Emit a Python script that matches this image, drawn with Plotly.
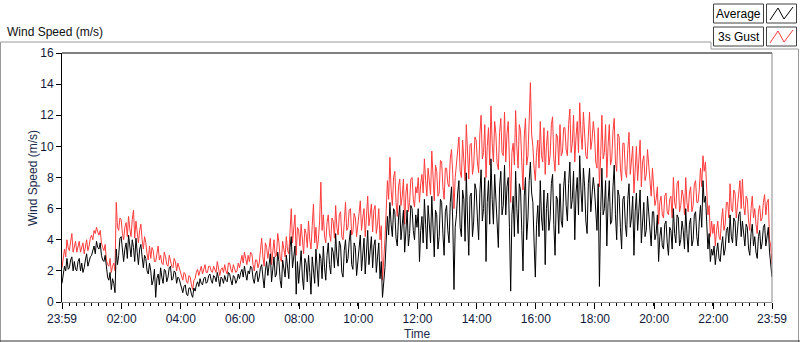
import pandas as pd
import plotly.graph_objects as go

# ---- data (2.5-minute samples, 23:59 -> 23:59 next day), one row per hour ----
avg_speed = [
    1.2,1.9, 2.3,2.0, 2.8,2.1, 2.2,2.7, 2.9,2.0, 2.6,2.1, 2.0,2.6, 2.8,2.0, 2.5,1.9, 2.2,2.7, 3.1,2.3, 2.6,2.9,
    3.0,3.3, 3.6,3.1, 3.9,3.5, 3.4,3.8, 3.0,2.7, 2.6,3.0, 2.0,1.6, 1.4,1.9, 0.8,1.5, 1.2,0.6, 3.4,2.4, 3.0,4.1,
    4.2,3.2, 2.6,3.4, 3.8,2.8, 4.3,3.6, 2.9,4.0, 3.5,2.6, 4.1,3.2, 2.4,3.4, 3.7,2.9, 2.2,3.0, 2.8,2.0, 1.8,2.5,
    2.0,1.1, 1.4,2.1, 0.3,1.5, 1.8,1.1, 2.2,1.6, 1.2,2.1, 2.0,1.3, 1.6,2.2, 2.3,1.4, 1.5,2.0, 1.9,1.2, 1.6,1.5,
    1.2,0.8, 0.6,1.0, 1.1,0.5, 0.4,0.9, 0.9,0.5, 0.3,0.9, 0.7,1.1, 1.3,1.0, 1.5,1.2, 1.1,1.5, 1.6,1.2, 1.3,1.7,
    1.8,1.4, 1.2,1.7, 1.6,1.3, 1.9,1.5, 1.0,1.6, 1.5,1.2, 1.7,1.4, 1.3,1.9, 1.8,1.4, 1.1,1.7, 1.6,1.2, 1.4,1.8,
    1.5,1.9, 2.1,1.6, 2.3,1.8, 1.4,2.0, 1.8,2.3, 2.2,1.5, 1.2,1.8, 2.0,1.3, 1.6,2.2, 2.4,1.6, 0.9,2.0, 2.6,1.7,
    2.4,3.1, 1.3,2.2, 2.9,1.6, 1.8,3.2, 2.6,1.4, 0.9,2.7, 2.2,1.6, 3.0,2.0, 1.5,3.5, 4.2,2.2, 2.8,3.6, 0.5,2.6,
    1.2,2.6, 3.3,1.6, 0.8,2.8, 2.5,1.3, 3.0,1.9, 0.5,2.9, 2.2,1.2, 3.4,2.0, 1.0,3.1, 2.8,1.5, 3.6,2.2, 1.4,3.0,
    3.8,2.4, 1.8,3.5, 3.2,2.2, 4.4,2.9, 2.3,3.9, 3.6,1.9, 1.6,3.3, 4.0,2.5, 2.8,3.9, 4.6,2.4, 2.1,3.8, 3.5,1.7,
    2.5,3.6, 4.3,2.0, 3.0,4.1, 1.8,3.5, 4.6,2.4, 3.4,4.2, 2.2,3.6, 4.0,1.9, 2.9,3.8, 1.5,2.6, 0.3,1.2, 2.2,3.9,
    5.5,4.3, 6.4,5.0, 4.2,6.0, 5.8,4.1, 3.6,5.4, 6.2,4.0, 4.8,5.9, 3.2,5.0, 5.9,3.6, 4.4,6.2, 6.0,4.6, 4.0,5.6,
    4.8,6.0, 2.6,4.6, 5.5,3.8, 6.6,5.0, 3.4,6.2, 5.0,3.8, 6.8,4.9, 2.9,5.9, 5.6,3.4, 4.2,6.6, 6.4,4.4, 3.0,5.8,
    6.2,4.6, 3.8,6.4, 7.4,5.2, 0.8,4.8, 5.6,7.0, 7.8,4.8, 4.2,7.2, 6.6,3.9, 8.3,5.4, 3.0,6.8, 7.0,4.2, 5.2,7.6,
    7.2,5.4, 4.0,7.0, 8.5,5.2, 6.0,8.0, 2.6,6.4, 7.8,5.0, 9.2,6.6, 5.0,8.2, 6.8,4.6, 3.5,7.4, 8.4,5.6, 6.2,8.8,
    5.6,7.4, 8.0,4.8, 0.7,5.6, 6.8,4.2, 8.4,6.0, 4.4,7.6, 7.2,4.6, 2.0,6.8, 8.0,4.0, 5.4,7.8, 9.0,7.0, 6.4,3.8,
    1.6,5.0, 6.2,4.2, 7.8,5.4, 4.6,7.2, 2.4,6.0, 7.0,4.6, 5.4,7.6, 8.2,5.0, 3.0,6.8, 6.6,4.4, 7.6,5.2, 4.8,7.4,
    8.4,6.2, 5.2,7.6, 9.0,6.0, 6.6,8.4, 4.0,7.0, 8.0,5.6, 9.4,7.2, 5.8,8.6, 7.4,5.2, 4.4,7.6, 8.6,5.8, 6.8,8.0,
    7.2,5.4, 4.6,7.6, 1.0,5.8, 8.6,5.6, 6.0,7.8, 3.6,6.4, 7.8,5.0, 5.2,7.4, 8.8,5.6, 4.0,7.2, 6.8,4.8, 3.4,6.6,
    6.8,5.0, 4.2,6.6, 7.6,4.8, 5.4,6.8, 3.0,5.8, 7.0,4.6, 5.8,7.2, 3.8,5.4, 6.4,4.2, 4.6,6.8, 5.6,4.4, 3.6,5.8,
    5.8,4.0, 4.4,5.6, 2.6,4.2, 4.8,3.6, 3.4,5.0, 5.2,3.8, 3.0,4.8, 4.6,3.4, 6.0,4.4, 3.8,5.6, 5.4,3.6, 4.0,5.2,
    4.6,3.4, 6.0,4.4, 3.2,5.0, 5.4,3.6, 4.0,5.6, 5.8,4.2, 3.6,5.2, 6.2,4.8, 7.8,6.4, 6.8,5.2, 3.4,4.4, 2.6,3.4,
    3.0,3.6, 2.4,3.2, 3.8,2.8, 2.6,3.6, 4.2,3.0, 3.4,4.6, 4.8,3.8, 5.6,4.2, 3.8,5.4, 5.2,3.6, 4.4,5.6, 5.8,4.2,
    5.2,4.2, 3.6,5.0, 4.8,3.4, 3.0,4.4, 5.0,3.6, 4.2,3.2, 2.8,4.2, 4.6,3.4, 3.8,4.8, 5.0,3.6, 4.4,4.8, 3.2,2.4,
    1.6,
]
gust_speed = [
    2.2,3.0, 3.4,2.9, 4.0,3.5, 3.3,3.9, 4.4,3.2, 3.6,3.9, 3.2,3.6, 3.9,3.2, 3.5,3.8, 3.1,3.7, 4.0,3.3, 3.6,4.1,
    4.3,4.0, 4.6,4.4, 4.8,4.5, 4.3,4.6, 3.8,3.5, 3.3,3.7, 2.7,2.4, 2.3,2.8, 1.9,2.3, 2.5,2.0, 6.4,4.8, 4.6,5.4,
    5.3,4.4, 4.0,4.8, 5.1,4.2, 5.5,4.7, 4.2,5.3, 5.9,4.1, 5.2,4.5, 3.8,4.6, 5.0,4.0, 3.4,4.2, 3.8,3.1, 2.7,3.6,
    2.8,3.5, 3.3,2.6, 2.6,3.1, 3.6,2.7, 3.0,2.5, 2.4,3.2, 2.9,2.4, 2.3,3.0, 2.7,2.3, 2.2,2.8, 2.6,2.0, 2.5,2.2,
    2.0,1.6, 1.4,1.9, 1.8,1.3, 1.2,1.7, 1.6,1.1, 0.8,1.4, 1.5,1.9, 2.1,1.7, 2.0,2.3, 1.8,2.2, 2.4,1.9, 1.9,2.3,
    2.3,2.0, 1.9,2.3, 2.1,1.9, 2.6,2.2, 1.7,2.1, 2.2,1.9, 2.4,2.0, 1.8,2.5, 2.5,2.1, 1.9,2.4, 2.2,1.9, 2.0,2.5,
    2.2,2.7, 3.0,2.5, 3.2,2.8, 2.4,3.0, 2.6,3.2, 3.1,2.4, 2.0,2.7, 2.7,2.2, 2.5,3.3, 4.1,2.9, 2.3,3.8, 3.5,2.8,
    3.3,4.1, 2.4,3.3, 4.0,2.9, 3.0,4.4, 3.8,2.8, 2.6,3.9, 3.4,2.9, 4.2,3.3, 3.1,4.6, 6.0,3.8, 4.9,5.6, 3.0,4.8,
    4.6,3.6, 5.0,3.9, 3.1,4.7, 4.4,3.5, 5.2,4.0, 3.4,4.9, 6.3,3.8, 4.8,3.4, 4.0,5.2, 7.7,4.6, 5.6,4.2, 3.8,5.1,
    5.6,4.4, 3.9,5.4, 5.2,4.1, 6.2,4.8, 4.3,5.6, 5.8,4.2, 4.0,5.1, 6.4,4.6, 4.8,5.9, 6.0,4.3, 4.5,5.7, 5.4,4.2,
    4.8,5.7, 6.5,4.6, 5.4,6.0, 4.2,5.8, 6.8,4.9, 5.6,6.3, 4.5,5.9, 6.2,4.4, 5.0,6.0, 4.0,4.9, 1.4,2.6, 4.0,5.8,
    7.8,6.6, 9.3,7.2, 6.2,8.0, 8.4,6.4, 5.5,7.4, 7.9,6.2, 6.8,7.9, 5.0,7.0, 7.6,5.8, 6.4,7.9, 8.0,6.6, 6.1,7.4,
    7.0,8.0, 6.4,7.6, 8.2,7.0, 9.2,7.8, 6.8,8.6, 7.6,6.9, 9.7,8.0, 6.5,8.8, 8.4,6.8, 7.0,9.1, 9.0,7.4, 6.6,8.6,
    8.6,7.6, 7.4,9.2, 9.8,8.2, 6.0,8.0, 8.9,10.0, 10.6,8.4, 8.0,10.4, 9.4,7.8, 11.4,9.0, 7.9,10.1, 10.2,8.2, 8.8,10.6,
    10.4,9.0, 8.3,10.8, 12.0,9.2, 9.6,11.4, 8.0,10.0, 11.2,8.8, 12.6,10.2, 9.0,11.6, 10.8,8.9, 8.5,10.9, 11.8,9.6, 9.4,12.2,
    9.0,10.8, 11.6,9.0, 6.4,9.6, 10.2,8.8, 12.3,10.0, 8.6,11.4, 11.0,9.0, 7.2,10.6, 11.8,8.8, 9.4,11.6, 14.1,10.8, 10.0,8.6,
    7.8,9.6, 10.4,8.6, 11.6,9.4, 9.0,11.2, 8.2,10.0, 11.0,8.8, 9.4,11.4, 11.9,9.2, 8.4,10.8, 10.6,8.8, 11.4,9.4, 9.6,11.2,
    11.2,9.8, 9.4,11.4, 12.4,9.6, 10.2,12.0, 9.0,10.6, 11.6,9.6, 12.8,10.8, 9.8,12.2, 11.0,9.4, 9.2,11.2, 12.2,9.8, 10.4,11.6,
    10.8,9.0, 8.6,11.2, 7.4,9.4, 12.0,9.2, 9.6,11.4, 8.0,10.0, 11.4,8.8, 9.2,11.0, 11.8,9.0, 8.4,10.8, 10.6,8.6, 7.8,10.2,
    10.2,8.4, 8.0,9.8, 10.9,8.2, 9.0,10.0, 7.0,9.0, 10.0,7.8, 9.2,10.4, 7.4,9.0, 9.4,7.8, 8.2,9.8, 8.8,7.4, 6.8,8.6,
    7.6,6.2, 6.6,7.4, 5.0,6.4, 6.8,5.6, 5.4,6.8, 7.0,5.8, 5.6,6.6, 6.8,5.4, 8.0,6.4, 6.0,7.6, 7.8,5.8, 6.2,7.2,
    6.8,5.6, 8.0,6.4, 5.8,7.0, 7.4,5.8, 6.2,7.6, 7.8,6.4, 6.4,7.2, 8.6,7.4, 9.4,8.4, 9.0,7.4, 5.6,6.2, 4.2,5.2,
    4.4,5.0, 3.6,4.6, 5.2,4.2, 4.0,5.2, 6.0,4.6, 5.0,6.4, 6.4,5.4, 7.6,6.0, 5.8,7.2, 7.0,5.4, 6.2,7.2, 7.8,6.0,
    7.9,6.2, 5.6,6.8, 6.6,5.2, 4.6,6.0, 6.8,5.4, 6.0,5.0, 4.4,5.8, 6.2,5.2, 5.4,6.4, 6.9,5.6, 6.4,6.6, 4.0,3.6,
    2.4,
]
start_time = "2024-01-01 23:59"
end_time = "2024-01-02 23:59"
sample_seconds = 150
tick_times = ["2024-01-01 23:59"] + [f"2024-01-02 {h:02d}:00" for h in range(2, 24, 2)] + ["2024-01-02 23:59"]
tick_labels = ["23:59"] + [f"{h:02d}:00" for h in range(2, 24, 2)] + ["23:59"]
y_ticks = list(range(0, 17, 2))

times_avg = pd.date_range(start_time, periods=len(avg_speed), freq=f"{sample_seconds}s")
times_gust = pd.date_range(start_time, periods=len(gust_speed), freq=f"{sample_seconds}s")

# ---- geometry helpers (pixel -> paper) ----
L, R, T, B = 62, 28, 53, 40
W, H = 800, 342
PW, PH = W - L - R, H - T - B
def px(x):
    return (x - L) / PW
def py(y):
    return (H - B - y) / PH

fig = go.Figure()
fig.add_trace(go.Scatter(x=times_gust, y=gust_speed, mode="lines", name="3s Gust",
                         line=dict(color="#FF3B3B", width=1)))
fig.add_trace(go.Scatter(x=times_avg, y=avg_speed, mode="lines", name="Average",
                         line=dict(color="#000000", width=1)))

font_main = "Liberation Sans, Arial, sans-serif"
navy = "#1b2a4a"

fig.update_layout(
    width=W, height=H,
    margin=dict(l=L, r=R, t=T, b=B),
    paper_bgcolor="white", plot_bgcolor="white",
    showlegend=False,
    font=dict(family=font_main, size=12, color="#000000"),
    xaxis=dict(
        type="date", range=[start_time, end_time],
        tickvals=tick_times, ticktext=tick_labels,
        ticks="outside", ticklen=6, tickcolor="#000000", tickwidth=1,
        showgrid=False, zeroline=False,
        showline=True, linecolor="#8a8a8a", linewidth=1,
        tickfont=dict(size=12, color="#10183a"),
        minor=dict(ticks="outside", ticklen=3, tickcolor="#000000",
                   tick0=start_time, dtick=15 * 60 * 1000, showgrid=False),
    ),
    yaxis=dict(
        range=[0, 16], tickvals=y_ticks,
        ticks="outside", ticklen=5, tickcolor="#000000",
        showgrid=False, zeroline=False,
        showline=True, linecolor="#000000", linewidth=1,
        tickfont=dict(size=12, color="#10183a"),
    ),
)

shapes = []
# plot frame: top black, right gray
shapes.append(dict(type="line", xref="paper", yref="paper", x0=0, x1=1, y0=1, y1=1,
                   line=dict(color="#000000", width=1)))
shapes.append(dict(type="line", xref="paper", yref="paper", x0=1, x1=1, y0=0, y1=1,
                   line=dict(color="#8a8a8a", width=1)))
# outer gray frame
frame_path = (f"M {px(0.5)},{py(342)} L {px(0.5)},{py(42)} L {px(711)},{py(42)} "
              f"L {px(711)},{py(49)} L {px(798.5)},{py(49)} L {px(798.5)},{py(342)}")
shapes.append(dict(type="path", xref="paper", yref="paper", path=frame_path,
                   line=dict(color="#9a9a9a", width=1)))
shapes.append(dict(type="line", xref="paper", yref="paper", x0=px(0), x1=px(800), y0=py(341), y1=py(341),
                   line=dict(color="#333333", width=1)))
# legend boxes
for (y0, y1, col) in [(4, 23, "#000000"), (27, 46, "#FF3B3B")]:
    shapes.append(dict(type="rect", xref="paper", yref="paper",
                       x0=px(713.5), x1=px(763.5), y0=py(y1), y1=py(y0),
                       line=dict(color="#404040", width=1), fillcolor="white"))
    shapes.append(dict(type="rect", xref="paper", yref="paper",
                       x0=px(766.5), x1=px(796.5), y0=py(y1), y1=py(y0),
                       line=dict(color="#404040", width=1), fillcolor="white"))
    zz = (f"M {px(770)},{py(y1-3)} L {px(778)},{py(y0+4)} L {px(784)},{py(y1-4)} "
          f"L {px(793)},{py(y0+3)}")
    shapes.append(dict(type="path", xref="paper", yref="paper", path=zz,
                       line=dict(color=col, width=1)))
fig.update_layout(shapes=shapes)

annotations = [
    dict(text="Wind Speed (m/s)", xref="paper", yref="paper", x=px(5), y=py(32),
         xanchor="left", yanchor="middle", showarrow=False,
         font=dict(size=12, color="#101010")),
    dict(text="Wind Speed (m/s)", xref="paper", yref="paper", x=px(33), y=py(178),
         xanchor="center", yanchor="middle", textangle=-90, showarrow=False,
         font=dict(size=12, color=navy)),
    dict(text="Time", xref="paper", yref="paper", x=px(417), y=py(334),
         xanchor="center", yanchor="middle", showarrow=False,
         font=dict(size=12, color=navy)),
    dict(text="Average", xref="paper", yref="paper", x=px(738.5), y=py(13.5),
         xanchor="center", yanchor="middle", showarrow=False,
         font=dict(size=12, color="#000000")),
    dict(text="3s Gust", xref="paper", yref="paper", x=px(738.5), y=py(36.5),
         xanchor="center", yanchor="middle", showarrow=False,
         font=dict(size=12, color="#000000")),
]
fig.update_layout(annotations=annotations)

fig.write_html("out.html", config={"displayModeBar": False},
               post_script="document.body.style.margin='0';document.body.style.overflow='hidden';")
